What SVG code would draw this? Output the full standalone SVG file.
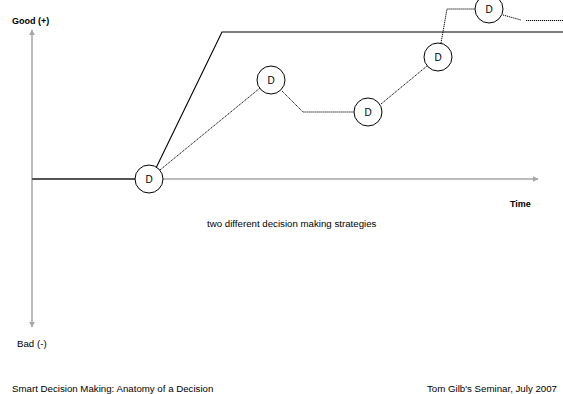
<svg xmlns="http://www.w3.org/2000/svg" width="563" height="394" viewBox="0 0 563 394">
<style>
text{font-family:"Liberation Sans",Arial,sans-serif;fill:#000}
.lbl{font-size:9px;font-weight:bold}
.txt{font-size:9.7px}
.axis{stroke:#a6a6a6;stroke-width:1.5;fill:none}
.solid{stroke:#000;stroke-width:1.1;fill:none}
.dot{stroke:#000;stroke-width:1;stroke-dasharray:1.2 0.8;fill:none}
.node circle{fill:#fff;stroke:#000;stroke-width:1}
.node text{font-size:10px;text-anchor:middle}
</style>
<defs>
<marker id="ah" viewBox="0 0 10 10" refX="9" refY="5" markerWidth="6" markerHeight="6" markerUnits="userSpaceOnUse" orient="auto">
<path d="M0,0 L10,5 L0,10 z" fill="#a6a6a6"/>
</marker>
</defs>
<g id="axes">
<line class="axis" x1="32" y1="179" x2="32" y2="30" marker-end="url(#ah)"/>
<line class="axis" x1="32" y1="179" x2="32" y2="327" marker-end="url(#ah)"/>
<line class="axis" x1="149" y1="179" x2="538" y2="179" marker-end="url(#ah)"/>
<line x1="32" y1="179" x2="136" y2="179" stroke="#555" stroke-width="2"/>
</g>
<g id="connectors">
<polyline class="solid" points="156,168 222,32 563,32"/>
<line class="dot" x1="160" y1="170" x2="260" y2="88"/>
<polyline class="dot" points="282,91 303,112 354,112"/>
<line class="dot" x1="381" y1="104" x2="427" y2="66"/>
<polyline class="dot" points="441,43 447,9 475,9"/>
<line class="dot" x1="503" y1="15" x2="521" y2="20"/>
<line class="dot" x1="526" y1="20.5" x2="563" y2="20.5"/>
</g>
<g id="n1" class="node"><circle cx="149" cy="179" r="14"/><text x="149" y="183">D</text></g>
<g id="n2" class="node"><circle cx="271" cy="80" r="14"/><text x="271" y="84">D</text></g>
<g id="n3" class="node"><circle cx="368" cy="112" r="14"/><text x="368" y="116">D</text></g>
<g id="n4" class="node"><circle cx="438" cy="57" r="14"/><text x="438" y="61">D</text></g>
<g id="n5" class="node"><circle cx="489" cy="9" r="14"/><text x="489" y="13">D</text></g>
<g id="labels">
<text class="lbl" x="12" y="24">Good (+)</text>
<text class="txt" x="17" y="347">Bad (-)</text>
<text class="lbl" x="510" y="207">Time</text>
<text class="txt" x="207" y="227">two different decision making strategies</text>
<text class="txt" x="12" y="391.5">Smart Decision Making: Anatomy of a Decision</text>
<text class="txt" x="557" y="391.5" text-anchor="end">Tom Gilb's Seminar, July 2007</text>
</g>
</svg>
